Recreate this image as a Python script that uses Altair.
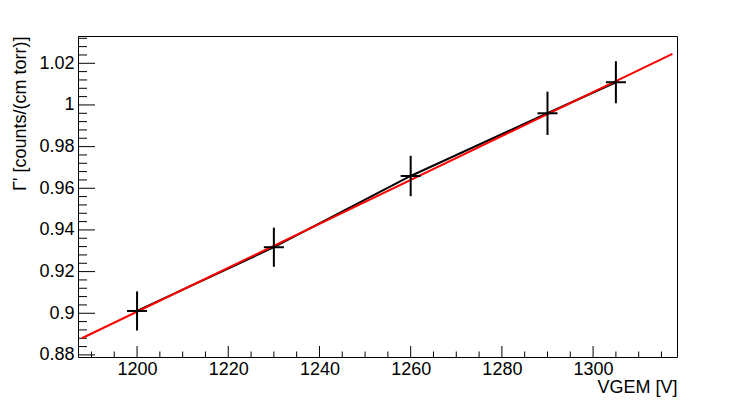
import altair as alt
import pandas as pd

# data
vgem = [1200, 1230, 1260, 1290, 1305]
gamma = [0.9011, 0.9317, 0.9659, 0.9960, 1.0109]
gamma_err = [0.0094, 0.0094, 0.0097, 0.0104, 0.0101]
vgem_err = [2.2, 2.2, 2.2, 2.2, 2.2]

fit_x = [1187.9, 1317.4]
fit_y = [0.8880, 1.0245]

x_labels = [1200, 1220, 1240, 1260, 1280, 1300]
x_minor = [v for v in range(1190, 1320, 5) if v not in x_labels]
y_labels = [0.88, 0.90, 0.92, 0.94, 0.96, 0.98, 1.00, 1.02]
y_minor = [round(0.88 + 0.004 * i, 3) for i in range(0, 39)]
y_minor = [v for v in y_minor if all(abs(v - m) > 1e-6 for m in y_labels)]

W, H = 599, 321
FONT = "Liberation Sans"
FS = 18

xs = alt.Scale(domain=[1187.05, 1318.4], nice=False, zero=False)
ys = alt.Scale(domain=[0.879, 1.0331], nice=False, zero=False)

common = dict(ticks=False, domain=False, grid=False, labelFlush=False,
              labelFont=FONT, labelFontSize=FS, labelColor="black",
              titleFont=FONT, titleFontSize=FS, titleColor="black",
              titleFontWeight="normal", titleAnchor="end")

xa = alt.Axis(values=x_labels, format="d", labelPadding=3,
              title="VGEM [V]", titlePadding=0, **common)
ya = alt.Axis(values=y_labels, format="~g", labelPadding=4,
              title="Γ' [counts/(cm torr)]", titlePadding=9, **common)


def X(f):
    return alt.X(f, type="quantitative", scale=xs, axis=xa)


def Y(f):
    return alt.Y(f, type="quantitative", scale=ys, axis=ya)


pts = pd.DataFrame({
    "x": vgem, "y": gamma,
    "ylo": [g - e for g, e in zip(gamma, gamma_err)],
    "yhi": [g + e for g, e in zip(gamma, gamma_err)],
    "xlo": [v - e for v, e in zip(vgem, vgem_err)],
    "xhi": [v + e for v, e in zip(vgem, vgem_err)],
})
fit = pd.DataFrame({"x": fit_x, "y": fit_y})

ymaj_df = pd.DataFrame({"y": y_labels})
ymin_df = pd.DataFrame({"y": y_minor})
xmaj_df = pd.DataFrame({"x": x_labels})
xmin_df = pd.DataFrame({"x": x_minor})

tick_style = dict(color="black", strokeWidth=1)

ymaj = alt.Chart(ymaj_df).mark_rule(**tick_style).encode(
    y=Y("y"), x=alt.value(0), x2=alt.value(17))
ymin = alt.Chart(ymin_df).mark_rule(**tick_style).encode(
    y=Y("y"), x=alt.value(0), x2=alt.value(9))
xmaj = alt.Chart(xmaj_df).mark_rule(**tick_style).encode(
    x=X("x"), y=alt.value(H), y2=alt.value(H - 11))
xmin = alt.Chart(xmin_df).mark_rule(**tick_style).encode(
    x=X("x"), y=alt.value(H), y2=alt.value(H - 5.5))

line = alt.Chart(pts).mark_line(color="black", strokeWidth=2).encode(
    x=X("x"), y=Y("y"))
fitline = alt.Chart(fit).mark_line(color="#ff0000", strokeWidth=2).encode(
    x=X("x"), y=Y("y"))
vbar = alt.Chart(pts).mark_rule(color="black", strokeWidth=2).encode(
    x=X("x"), y=Y("ylo"), y2="yhi")
hbar = alt.Chart(pts).mark_rule(color="black", strokeWidth=2).encode(
    y=Y("y"), x=X("xlo"), x2="xhi")

chart = alt.layer(ymin, ymaj, xmin, xmaj, line, fitline, vbar, hbar).properties(
    width=W, height=H,
    autosize=alt.AutoSizeParams(type="none"),
    padding={"left": 70, "top": 28, "right": 40, "bottom": 45},
).configure_view(
    stroke="black", strokeWidth=1
)

chart.save("out.html", embed_options={"renderer": "svg", "actions": False})
